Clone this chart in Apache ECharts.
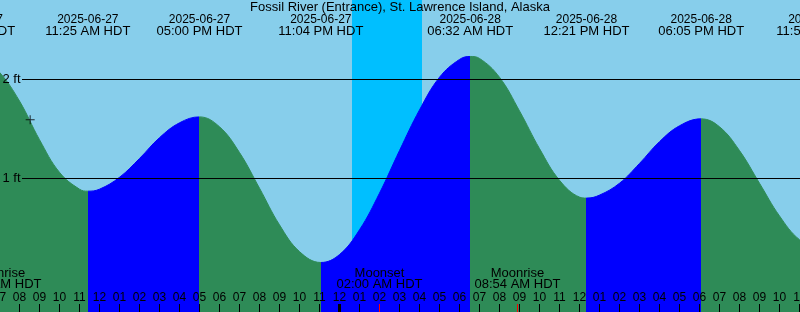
<!DOCTYPE html>
<html><head><meta charset="utf-8">
<script src="https://cdn.jsdelivr.net/npm/echarts@6.0.0/dist/echarts.min.js"></script>
<style>html,body{margin:0;padding:0;background:#87CEEB}#c{width:800px;height:312px}</style>
</head><body><div id="c"></div>
<script>
// ---------- data ----------
const chartTitle = 'Fossil River (Entrance), St. Lawrence Island, Alaska';
const tideEventTimes = ['2025-06-27 05:38','2025-06-27 11:25','2025-06-27 17:00','2025-06-27 23:04','2025-06-28 06:32','2025-06-28 12:21','2025-06-28 18:05','2025-06-28 23:58'];
const tideEventFeet  = [2.25, 0.87, 1.62, 0.15, 2.23, 0.80, 1.60, 0.29];
const tideEventDates = ['2025-06-27','2025-06-27','2025-06-27','2025-06-27','2025-06-28','2025-06-28','2025-06-28','2025-06-28'];
const tideEventClock = ['05:38 AM HDT','11:25 AM HDT','05:00 PM HDT','11:04 PM HDT','06:32 AM HDT','12:21 PM HDT','06:05 PM HDT','11:58 PM HDT'];
const hourlyStart = '2025-06-27 06:00';
const hourlyFeet = [2.24,2.07,1.78,1.39,1.06,0.89,0.89,1.01,1.20,1.41,1.56,1.62,1.52,1.26,0.90,0.53,0.26,0.15,
                    0.23,0.48,0.85,1.28,1.69,2.02,2.20,2.21,2.02,1.68,1.30,0.98,0.81,0.83,0.95,1.15,1.37,1.53,1.60,1.52,1.28,0.95,0.62,0.38,0.29];
const axisStart = '2025-06-27 07:01:30';
const axisEnd   = '2025-06-28 23:01:30';
const hourTickStart = '2025-06-27 07:00';
const hourLabels = ['07','08','09','10','11','12','01','02','03','04','05','06','07','08','09','10','11',
                    '12','01','02','03','04','05','06','07','08','09','10','11','12','01','02','03','04','05','06','07','08','09','10','11'];
const midnightTick = '2025-06-28 00:00';
const nightStart = '2025-06-28 00:38';
const nightEnd   = '2025-06-28 04:07';
const moonEventTimes = ['2025-06-27 06:57','2025-06-28 02:00','2025-06-28 08:54'];
const moonEventNames = ['Moonrise','Moonset','Moonrise'];
const moonEventClock = ['06:57 AM HDT','02:00 AM HDT','08:54 AM HDT'];
const gridFeet = [1, 2];
const gridUnit = 'ft';
const nowTime = '2025-06-27 08:32';
const nowFeet = 1.59;

// ---------- helpers ----------
function T(s){const [d,t]=s.split(' ');const [Y,M,D]=d.split('-').map(Number);const p=t.split(':').map(Number);return Date.UTC(Y,M-1,D,p[0],p[1],p[2]||0);}
const H = 3600000;
const FONT = '"Liberation Sans", Arial, sans-serif';
const FLOOD = '#0000FF', EBB = '#2E8B57';

const evT = tideEventTimes.map(T);
let curve = evT.map((t,i)=>[t, tideEventFeet[i]]);
hourlyFeet.forEach((v,i)=>{const t=T(hourlyStart)+i*H; if(!evT.some(e=>Math.abs(e-t)<15*60000)) curve.push([t,v]);});
curve.sort((a,b)=>a[0]-b[0]);

const pieces = [{lt: evT[0], color: FLOOD}];
for(let i=0;i<evT.length-1;i++) pieces.push({gte: evT[i], lt: evT[i+1], color: tideEventFeet[i+1]>tideEventFeet[i]?FLOOD:EBB});
pieces.push({gte: evT[evT.length-1], color: FLOOD});

const chart = echarts.init(document.getElementById('c'), null, {renderer:'canvas'});
chart.setOption({
  animation:false,
  useUTC:true,
  backgroundColor:'#87CEEB',
  title:{text:chartTitle,left:'center',top:1,padding:0,textStyle:{fontSize:13,fontWeight:'normal',color:'#000',fontFamily:FONT}},
  grid:{left:0,right:0,top:0,bottom:0},
  xAxis:{type:'time',min:T(axisStart),max:T(axisEnd),show:false},
  yAxis:{type:'value',min:-0.35,max:2.8,show:false},
  visualMap:{type:'piecewise',show:false,dimension:0,seriesIndex:1,pieces:pieces},
  series:[
    {type:'custom',z:1,silent:true,data:[[T(nightStart),T(nightEnd)]],encode:{x:[0,1]},
     renderItem:(p,api)=>{const cs=p.coordSys;const x0=Math.round(api.coord([api.value(0),0])[0]);const x1=Math.round(api.coord([api.value(1),0])[0]);
       return {type:'rect',shape:{x:x0,y:cs.y,width:x1-x0,height:cs.height},style:{fill:'#00BFFF'}};}},
    {type:'line',z:2,silent:true,data:curve,smooth:0.4,showSymbol:false,symbol:'none',lineStyle:{width:1},areaStyle:{opacity:1,origin:'start'}},
    {type:'custom',z:3,silent:true,data:gridFeet.map(v=>[T(axisStart),v]),
     renderItem:(p,api)=>{const cs=p.coordSys;const y=api.coord([api.value(0),api.value(1)])[1];const py=Math.round(y-0.5)+0.5;
       return {type:'group',children:[
         {type:'line',shape:{x1:cs.x+22,y1:py,x2:cs.x+cs.width,y2:py},style:{stroke:'#000',lineWidth:1}},
         {type:'text',x:cs.x+20.5,y:py-0.5,style:{text:api.value(1)+' '+gridUnit,fill:'#000',font:'13px '+FONT,align:'right',verticalAlign:'middle'}}]};}},
    {type:'custom',z:4,silent:true,data:hourLabels.map((l,i)=>[T(hourTickStart)+i*H,i]),
     renderItem:(p,api)=>{const cs=p.coordSys;const t=api.value(0);const x=api.coord([t,0])[0];const b=cs.y+cs.height;const px=Math.floor(x)+0.5;const mid=t===T(midnightTick);
       return {type:'group',children:[
         {type:'line',shape:{x1:px,y1:b-8,x2:px,y2:b},style:{stroke:'#000',lineWidth:mid?3:1}},
         {type:'text',x:x,y:b-14.5,style:{text:hourLabels[p.dataIndex],fill:'#000',font:'12px '+FONT,align:'center',verticalAlign:'middle'}}]};}},
    {type:'custom',z:5,silent:true,data:moonEventTimes.map((t,i)=>[T(t),i]),
     renderItem:(p,api)=>{const cs=p.coordSys;const x=api.coord([api.value(0),0])[0];const b=cs.y+cs.height;const px=Math.floor(x)+0.5;const i=p.dataIndex;
       return {type:'group',children:[
         {type:'line',shape:{x1:px,y1:b-8,x2:px,y2:b},style:{stroke:'#FF0000',lineWidth:1}},
         {type:'text',x:x,y:b-38.7,style:{text:moonEventNames[i],fill:'#000',font:'13px '+FONT,align:'center',verticalAlign:'middle'}},
         {type:'text',x:x,y:b-27.5,style:{text:moonEventClock[i],fill:'#000',font:'13px '+FONT,align:'center',verticalAlign:'middle'}}]};}},
    {type:'custom',z:5,silent:true,data:evT.map((t,i)=>[t,tideEventFeet[i]]),
     renderItem:(p,api)=>{const cs=p.coordSys;const x=api.coord([api.value(0),api.value(1)])[0];const i=p.dataIndex;
       return {type:'group',children:[
         {type:'text',x:x,y:cs.y+20,style:{text:tideEventDates[i],fill:'#000',font:'12px '+FONT,align:'center',verticalAlign:'middle'}},
         {type:'text',x:x,y:cs.y+31.7,style:{text:tideEventClock[i],fill:'#000',font:'13px '+FONT,align:'center',verticalAlign:'middle'}}]};}},
    {type:'scatter',z:6,silent:true,data:[[T(nowTime),nowFeet]],symbol:'path://M4,0h1v4h4v1h-4v4h-1v-4h-4v-1h4z',symbolSize:9,itemStyle:{color:'#000'}}
  ]
});
</script></body></html>
